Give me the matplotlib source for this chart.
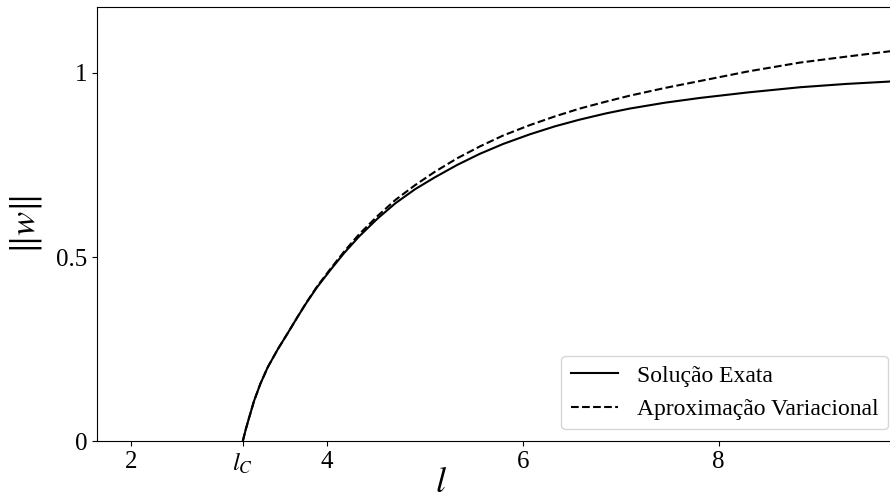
import numpy as np
import matplotlib
matplotlib.use("Agg")
import matplotlib.pyplot as plt

plt.rcParams["font.family"] = ["Liberation Serif", "DejaVu Serif"]
plt.rcParams["mathtext.fontset"] = "stix"

# critical length l_c (where the nontrivial branch appears)
l_c = np.pi

# ||w|| as a function of l, exact solution
l_exact = [l_c, 3.17, 3.20, 3.255, 3.32, 3.395, 3.50, 3.60, 3.70, 3.79,
           3.90, 4.04, 4.18, 4.33, 4.52, 4.70, 4.90, 5.10, 5.33, 5.56,
           5.80, 6.07, 6.33, 6.58, 6.85, 7.09, 7.45, 7.81, 8.30, 8.83,
           9.30, 9.85]
w_exact = [0.0, 0.030, 0.058, 0.108, 0.155, 0.200, 0.250, 0.293, 0.337, 0.375,
           0.418, 0.466, 0.512, 0.556, 0.605, 0.646, 0.684, 0.716, 0.750, 0.780,
           0.807, 0.833, 0.855, 0.873, 0.890, 0.903, 0.919, 0.932, 0.947, 0.961,
           0.970, 0.978]

# ||w|| from the variational approximation
l_var = [l_c, 3.17, 3.20, 3.255, 3.32, 3.395, 3.50, 3.60, 3.70, 3.79,
         3.90, 4.04, 4.18, 4.33, 4.52, 4.70, 4.90, 5.10, 5.33, 5.56,
         5.80, 6.07, 6.33, 6.58, 6.85, 7.09, 7.45, 7.81, 8.30, 8.83,
         9.30, 9.85]
w_var = [0.0, 0.030, 0.058, 0.108, 0.155, 0.200, 0.250, 0.293, 0.337, 0.376,
         0.420, 0.469, 0.516, 0.562, 0.612, 0.655, 0.695, 0.731, 0.768, 0.800,
         0.830, 0.858, 0.882, 0.903, 0.922, 0.938, 0.959, 0.978, 1.004, 1.028,
         1.044, 1.062]

xticks = [2, l_c, 4, 6, 8]
xticklabels = ["2", r"$l_C$", "4", "6", "8"]
yticks = [0, 0.5, 1]
yticklabels = ["0", "0.5", "1"]

fig = plt.figure(figsize=(8.9, 4.99), dpi=100)
ax = fig.add_axes([0.109, 0.116, 0.902, 0.870])

ax.plot(l_exact, w_exact, color="black", linewidth=1.5, label="Solução Exata")
ax.plot(l_var, w_var, color="black", linewidth=1.5, linestyle="--",
        label="Aproximação Variacional")

ax.set_xlim(1.653, 9.85)
ax.set_ylim(0, 1.179)
ax.set_xticks(xticks)
ax.set_xticklabels(xticklabels)
ax.set_yticks(yticks)
ax.set_yticklabels(yticklabels)
ax.tick_params(labelsize=18)

ax.set_xlabel(r"$l$", fontsize=26)
ax.xaxis.set_label_coords(0.428, -0.06)
ax.set_ylabel(r"$\|w\|$", fontsize=26)
ax.yaxis.set_label_coords(-0.066, 0.5)

ax.legend(loc="lower right", fontsize=17)

fig.savefig("out.png", dpi=100)
